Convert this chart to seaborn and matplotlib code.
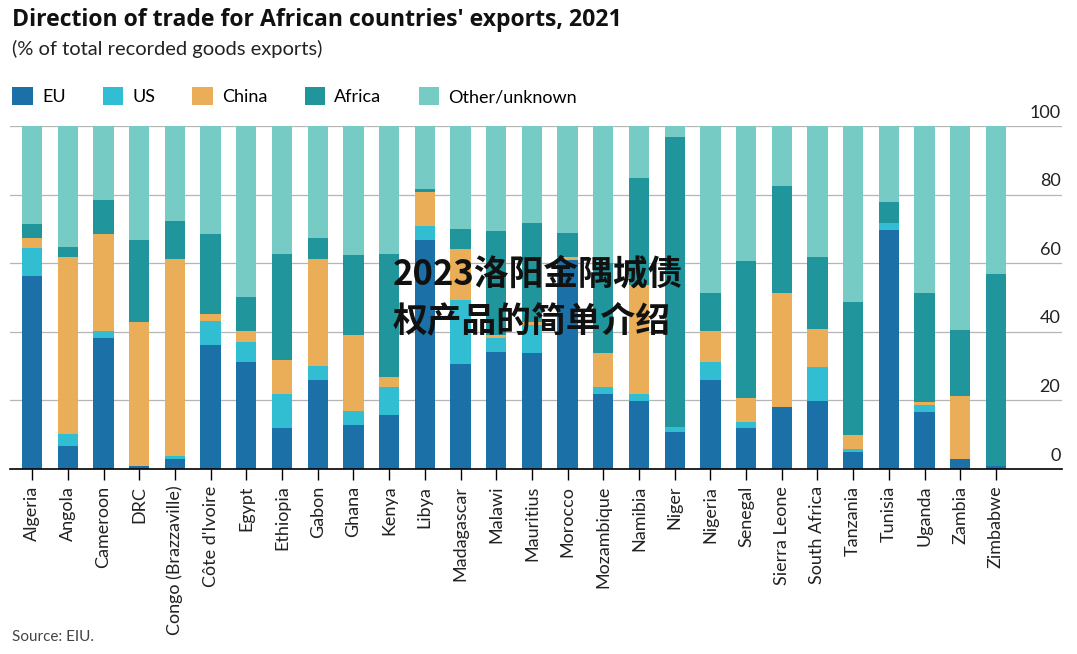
import numpy as np
import pandas as pd
import seaborn as sns
import matplotlib.pyplot as plt
from matplotlib.patches import Patch

# Data (% of total recorded goods exports)
countries = [
    "Algeria", "Angola", "Cameroon", "DRC", "Congo (Brazzaville)", "Côte d'Ivoire",
    "Egypt", "Ethiopia", "Gabon", "Ghana", "Kenya", "Libya", "Madagascar", "Malawi",
    "Mauritius", "Morocco", "Mozambique", "Namibia", "Niger", "Nigeria", "Senegal",
    "Sierra Leone", "South Africa", "Tanzania", "Tunisia", "Uganda", "Zambia", "Zimbabwe",
]
eu = [56.4, 6.8, 38.3, 0.9, 3.0, 36.2, 31.2, 12.0, 25.9, 12.8, 15.7, 66.8, 30.6, 34.2,
      33.7, 61.0, 21.9, 19.9, 10.9, 25.9, 12.0, 18.1, 19.8, 5.0, 69.7, 16.6, 2.9, 0.9]
us = [8.1, 3.3, 2.0, 0.0, 0.8, 7.0, 5.8, 9.9, 4.1, 4.1, 8.2, 4.0, 18.7, 4.0,
      8.3, 0.0, 2.0, 2.0, 1.2, 5.3, 1.7, 0.0, 9.9, 0.8, 2.0, 2.1, 0.0, 0.0]
china = [2.8, 51.7, 28.2, 42.0, 57.4, 2.0, 3.3, 9.9, 31.2, 22.2, 2.9, 10.1, 14.7, 0.8,
         0.8, 0.8, 9.9, 31.7, 0.0, 9.0, 7.0, 33.2, 11.1, 4.1, 0.0, 0.8, 18.4, 0.0]
africa = [4.1, 3.0, 9.9, 23.9, 11.1, 23.3, 9.8, 30.9, 6.1, 23.3, 35.9, 0.7, 6.0, 30.4,
          28.9, 7.0, 26.2, 31.2, 84.7, 11.1, 39.9, 31.2, 21.0, 38.8, 6.1, 31.8, 19.2, 56.0]

series = ["EU", "US", "China", "Africa", "Other/unknown"]
colors = ["#1b70a8", "#31bed2", "#e9ae57", "#21959c", "#76ccc5"]

df = pd.DataFrame({"country": countries, "EU": eu, "US": us, "China": china, "Africa": africa})
df["Other/unknown"] = 100 - df[["EU", "US", "China", "Africa"]].sum(axis=1)
cum = df[series].cumsum(axis=1)

fig = plt.figure(figsize=(10.77, 6.54), dpi=100)
plt.rcParams["font.family"] = ["Lato", "DejaVu Sans"]
ax = fig.add_axes([10 / 1077, 1 - 469 / 654, 1052 / 1077, 343 / 654])

# stack by drawing cumulative totals, tallest first
for name, col in reversed(list(zip(series, colors))):
    sns.barplot(x=df["country"], y=cum[name], color=col, width=0.57,
                saturation=1, ax=ax, zorder=3, linewidth=0)

ax.set_xlim(-0.62, 28.85)
ax.set_ylim(0, 100)
ax.set_xlabel("")
ax.set_ylabel("")
ax.set_yticks([0, 20, 40, 60, 80, 100])
ax.set_yticklabels([])
ax.tick_params(axis="y", length=0)
ax.grid(axis="y", color="#b5b5b5", lw=0.9, zorder=0)
for v in [0, 20, 40, 60, 80, 100]:
    ax.text(0.9985, v + 1.6, str(v), transform=ax.get_yaxis_transform(),
            ha="right", va="bottom", fontsize=13, color="#222222")

ax.tick_params(axis="x", length=8, width=1, color="black", pad=4, labelsize=13,
               labelcolor="#222222")
plt.setp(ax.get_xticklabels(), rotation=90)
for s in ["top", "right", "left"]:
    ax.spines[s].set_visible(False)
ax.spines["bottom"].set_color("black")
ax.spines["bottom"].set_linewidth(1.2)
ax.spines["bottom"].set_zorder(5)

# title block
fig.text(12 / 1077, 1 - 20 / 654, "Direction of trade for African countries' exports, 2021",
         fontsize=16.6, fontweight="bold", va="center", ha="left", color="#111111",
         family=["Open Sans", "DejaVu Sans"])
fig.text(12 / 1077, 1 - 49 / 654, "(% of total recorded goods exports)",
         fontsize=14.5, va="center", ha="left", color="#222222")

handles = [Patch(facecolor=c, edgecolor="none") for c in colors]
fig.legend(handles, series, loc="center left", bbox_to_anchor=(5 / 1077, 1 - 96 / 654),
           ncol=5, frameon=False, fontsize=13, handlelength=1.15, handleheight=1.15,
           handletextpad=0.5, columnspacing=2.05, borderaxespad=0)

fig.text(12 / 1077, 1 - 637 / 654, "Source: EIU.", fontsize=11, color="#444444",
         va="center", ha="left")

# overlaid caption text
fig.text(393 / 1077, 1 - 297 / 654, "2023洛阳金隅城债\n权产品的简单介绍",
         family=["Noto Sans CJK SC", "DejaVu Sans"], fontweight="black", fontsize=25,
         color="#111111", ha="left", va="center", linespacing=1.42, zorder=10)

fig.savefig("out.png", dpi=100)
